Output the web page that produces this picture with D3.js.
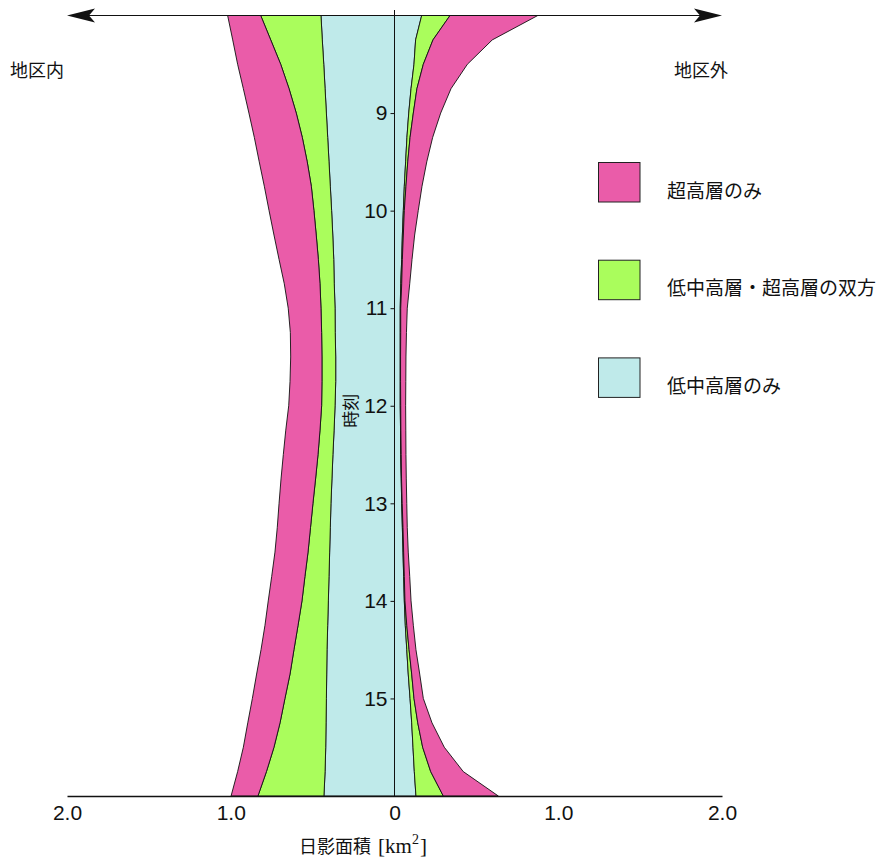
<!DOCTYPE html>
<html>
<head>
<meta charset="utf-8">
<script src="https://cdn.jsdelivr.net/npm/d3@7"></script>
<style>
  body { margin: 0; background: #fff; }
  text { fill: #111; }
</style>
</head>
<body>
<svg id="chart" width="877" height="861"></svg>
<script>
// 時刻 (hours)
const hours = [8.0, 8.25, 8.5, 8.75, 9.0, 9.25, 9.5, 9.75, 10.0, 10.25, 10.5, 10.75,
  11.0, 11.25, 11.5, 11.75, 12.0, 12.25, 12.5, 12.75, 13.0, 13.25, 13.5, 13.75,
  14.0, 14.25, 14.5, 14.75, 15.0, 15.25, 15.5, 15.75, 16.0];

// 地区内 shadow area [km²]
const insideLowMid = [0.449, 0.441, 0.432, 0.424, 0.416, 0.408, 0.400, 0.392, 0.384, 0.377, 0.371, 0.368,
  0.363, 0.362, 0.359, 0.359, 0.363, 0.369, 0.376, 0.382, 0.388, 0.392, 0.396, 0.400,
  0.404, 0.408, 0.412, 0.414, 0.416, 0.418, 0.420, 0.424, 0.431];
const insideBoth = [0.368, 0.315, 0.263, 0.220, 0.184, 0.155, 0.133, 0.116, 0.108, 0.101, 0.094, 0.087,
  0.086, 0.083, 0.084, 0.084, 0.082, 0.086, 0.091, 0.100, 0.110, 0.121, 0.132, 0.147,
  0.161, 0.181, 0.202, 0.224, 0.253, 0.281, 0.316, 0.358, 0.403];
const insideHigh = [0.202, 0.232, 0.263, 0.279, 0.289, 0.293, 0.293, 0.287, 0.274, 0.258, 0.240, 0.218,
  0.200, 0.191, 0.191, 0.195, 0.201, 0.209, 0.212, 0.211, 0.207, 0.203, 0.202, 0.203,
  0.206, 0.202, 0.201, 0.204, 0.199, 0.197, 0.187, 0.176, 0.164];

// 地区外 shadow area [km²]
const outsideLowMid = [0.166, 0.129, 0.119, 0.101, 0.087, 0.076, 0.068, 0.060, 0.054, 0.048, 0.044, 0.038,
  0.035, 0.035, 0.035, 0.035, 0.035, 0.037, 0.038, 0.041, 0.044, 0.048, 0.052, 0.056,
  0.060, 0.066, 0.075, 0.084, 0.095, 0.105, 0.113, 0.121, 0.131];
const outsideBoth = [0.173, 0.106, 0.057, 0.036, 0.028, 0.019, 0.013, 0.010, 0.006, 0.006, 0.004, 0.006,
  0.003, 0.003, 0.002, 0.002, 0.003, 0.002, 0.003, 0.002, 0.003, 0.004, 0.004, 0.004,
  0.004, 0.009, 0.014, 0.021, 0.024, 0.037, 0.059, 0.100, 0.167];
const outsideHigh = [0.536, 0.362, 0.269, 0.208, 0.167, 0.138, 0.116, 0.098, 0.085, 0.069, 0.059, 0.049,
  0.040, 0.035, 0.033, 0.032, 0.030, 0.030, 0.029, 0.029, 0.028, 0.026, 0.028, 0.033,
  0.037, 0.040, 0.042, 0.049, 0.057, 0.087, 0.132, 0.199, 0.336];

const seriesKeys = ["lowMid", "both", "high"];
const seriesLabels = { high: "超高層のみ", both: "低中高層・超高層の双方", lowMid: "低中高層のみ" };
const seriesColors = { high: "#ea5ca9", both: "#aafd5c", lowMid: "#bfeaea" };
const legendOrder = ["high", "both", "lowMid"];

const xTicks = [-2, -1, 0, 1, 2];
const hourTicks = [9, 10, 11, 12, 13, 14, 15];

const svg = d3.select("#chart");
const x = d3.scaleLinear().domain([-2, 2]).range([67, 722]);
const y = d3.scaleLinear().domain([8, 16]).range([15.5, 796]);

function rows(a, b, c) {
  return hours.map((t, i) => ({ t, lowMid: a[i], both: b[i], high: c[i] }));
}
const stack = d3.stack().keys(seriesKeys);

function drawSide(data, sign) {
  const layers = stack(data);
  const area = d3.area()
    .y(d => y(d.data.t))
    .x0(d => x(sign * d[0]))
    .x1(d => x(sign * d[1]));
  svg.append("g").selectAll("path").data(layers).join("path")
    .attr("d", area)
    .attr("fill", d => seriesColors[d.key])
    .attr("stroke", "#111")
    .attr("stroke-width", 0.9)
    .attr("stroke-linejoin", "round");
}
drawSide(rows(insideLowMid, insideBoth, insideHigh), -1);
drawSide(rows(outsideLowMid, outsideBoth, outsideHigh), 1);

// bottom axis
const xAxis = d3.axisBottom(x).tickValues(xTicks).tickSize(0).tickPadding(9)
  .tickFormat(v => v === 0 ? "0" : Math.abs(v).toFixed(1));
const gx = svg.append("g").attr("transform", `translate(0,${y(16)})`).call(xAxis);
gx.select(".domain").attr("stroke", "#111").attr("stroke-width", 1.6);
gx.selectAll("text").attr("font-family", "Liberation Sans, Arial, sans-serif")
  .attr("font-size", 21).attr("fill", "#111");

// vertical time axis at zero
svg.append("line").attr("x1", x(0)).attr("x2", x(0)).attr("y1", 10).attr("y2", y(16))
  .attr("stroke", "#111").attr("stroke-width", 1);
const yAxis = d3.axisLeft(y).tickValues(hourTicks).tickSize(4).tickPadding(3);
const gy = svg.append("g").attr("transform", `translate(${x(0)},0)`).call(yAxis);
gy.select(".domain").remove();
gy.selectAll("line").attr("stroke", "#111");
gy.selectAll("text").attr("font-family", "Liberation Sans, Arial, sans-serif")
  .attr("font-size", 21).attr("fill", "#111");

// top double-headed arrow
svg.append("line").attr("x1", x(-2) + 10).attr("x2", x(2) - 10).attr("y1", y(8)).attr("y2", y(8))
  .attr("stroke", "#111").attr("stroke-width", 1.2);
const y0 = y(8);
const xl = x(-2), xr = x(2);
svg.append("path")
  .attr("d", `M${xl},${y0} L${xl + 28},${y0 - 7} L${xl + 22},${y0} L${xl + 28},${y0 + 7} Z`)
  .attr("fill", "#111");
svg.append("path")
  .attr("d", `M${xr},${y0} L${xr - 28},${y0 - 7} L${xr - 22},${y0} L${xr - 28},${y0 + 7} Z`)
  .attr("fill", "#111");

const cjk = "'Noto Sans CJK JP', 'Noto Sans CJK SC', sans-serif";
const serif = "'Liberation Serif', 'DejaVu Serif', serif";
const labelInk = "#2a2a2a";

// side labels
svg.append("text").attr("x", 10).attr("y", 77).text("地区内")
  .attr("font-family", cjk).attr("font-size", 18).attr("fill", labelInk);
svg.append("text").attr("x", 674).attr("y", 77).text("地区外")
  .attr("font-family", cjk).attr("font-size", 18).attr("fill", labelInk);

// axis titles
svg.append("text")
  .attr("transform", `translate(357,${y(12.05)}) rotate(-90)`)
  .attr("text-anchor", "middle")
  .attr("font-family", cjk).attr("font-size", 17).attr("fill", labelInk)
  .text("時刻");

const xt = svg.append("text").attr("x", 363).attr("y", 853).attr("text-anchor", "middle")
  .attr("font-family", cjk).attr("font-size", 18).attr("fill", labelInk);
xt.append("tspan").text("日影面積");
xt.append("tspan").attr("font-family", serif).attr("font-size", 21).attr("dx", 7).text("[km");
xt.append("tspan").attr("font-family", serif).attr("font-size", 14).attr("dy", -9).text("2");
xt.append("tspan").attr("font-family", serif).attr("font-size", 21).attr("dy", 9).attr("dx", 1).text("]");

// legend
const legend = svg.append("g");
legendOrder.forEach((k, i) => {
  const top = 162.5 + i * 97.7;
  legend.append("rect").attr("x", 598.5).attr("y", top).attr("width", 41.5).attr("height", 39.5)
    .attr("fill", seriesColors[k]).attr("stroke", "#222").attr("stroke-width", 1);
  legend.append("text").attr("x", 667).attr("y", top + 35)
    .attr("font-family", cjk).attr("font-size", 19).attr("fill", labelInk).text(seriesLabels[k]);
});
</script>
</body>
</html>
